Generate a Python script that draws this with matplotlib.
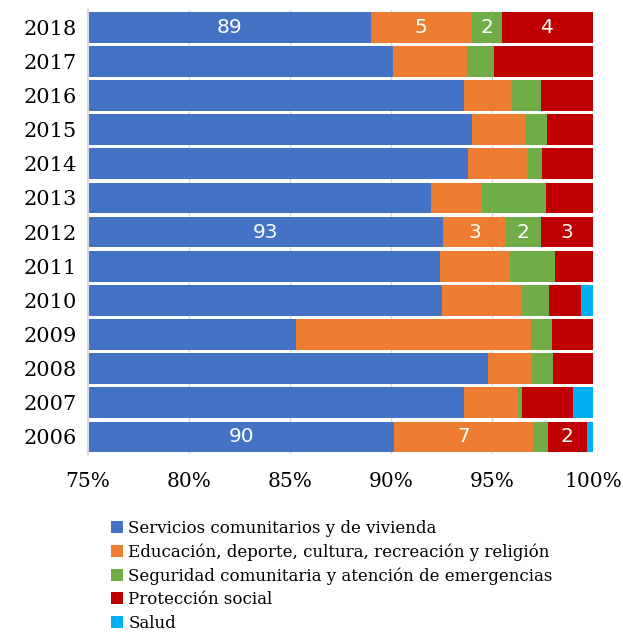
import matplotlib.pyplot as plt
import numpy as np

# years shown top to bottom
years = ["2018", "2017", "2016", "2015", "2014", "2013", "2012",
         "2011", "2010", "2009", "2008", "2007", "2006"]

servicios = [89.0, 90.1, 93.6, 94.0, 93.8, 92.0, 92.55, 92.4, 92.5, 85.3, 94.8, 93.6, 90.15]
educacion = [5.0, 3.65, 2.4, 2.65, 3.0, 2.5, 3.15, 3.5, 3.95, 11.65, 2.2, 2.7, 6.9]
seguridad = [1.5, 1.35, 1.4, 1.05, 0.65, 3.15, 1.7, 2.2, 1.35, 1.0, 1.0, 0.2, 0.7]
proteccion = [4.5, 4.9, 2.6, 2.3, 2.55, 2.35, 2.6, 1.9, 1.6, 2.05, 2.0, 2.5, 1.95]
salud = [0.0, 0.0, 0.0, 0.0, 0.0, 0.0, 0.0, 0.0, 0.6, 0.0, 0.0, 1.0, 0.3]

series = [
    ("Servicios comunitarios y de vivienda", servicios, "#4472C4"),
    ("Educación, deporte, cultura, recreación y religión", educacion, "#ED7D31"),
    ("Seguridad comunitaria y atención de emergencias", seguridad, "#70AD47"),
    ("Protección social", proteccion, "#C00000"),
    ("Salud", salud, "#00B0F0"),
]

# rows that carry value labels
labelled = ["2018", "2012", "2006"]

plt.rcParams["font.family"] = ["DejaVu Serif"]

fig = plt.figure(figsize=(6.23, 6.34), dpi=100)
ax = fig.add_axes([0.1413, 0.284, 0.8107, 0.700])

y = np.arange(len(years))
left = np.zeros(len(years))
for name, vals, color in series:
    vals = np.array(vals)
    ax.barh(y, vals, left=left, height=0.9, color=color, label=name, zorder=2)
    for i, yr in enumerate(years):
        # small slices stay unlabelled, as in the source chart
        if yr in labelled and vals[i] >= 1:
            start = max(left[i], 75)
            cx = (start + left[i] + vals[i]) / 2
            ax.text(cx, y[i], f"{vals[i]:.0f}", ha="center", va="center",
                    color="white", fontsize=14.5, family="DejaVu Sans", zorder=3)
    left += vals

ax.set_xlim(75, 100)
ax.set_ylim(len(years) - 0.5, -0.5)
ax.set_yticks(y)
ax.set_yticklabels(years, fontsize=15)
ax.set_xticks([75, 80, 85, 90, 95, 100])
ax.set_xticklabels(["75%", "80%", "85%", "90%", "95%", "100%"], fontsize=14.5)
ax.tick_params(length=0, pad=8)
ax.tick_params(axis="x", pad=13)
ax.grid(axis="x", color="#D9D9D9", linewidth=1, zorder=0)
for s in ["top", "right", "bottom"]:
    ax.spines[s].set_visible(False)
ax.spines["left"].set_color("#D9D9D9")
ax.spines["left"].set_linewidth(1.5)

fig.legend(loc="upper left", bbox_to_anchor=(0.167, 0.19), frameon=False,
           fontsize=12, handlelength=0.75, handleheight=0.75, handletextpad=0.3,
           labelspacing=0.38, borderaxespad=0)

fig.savefig("out.png", dpi=100)
